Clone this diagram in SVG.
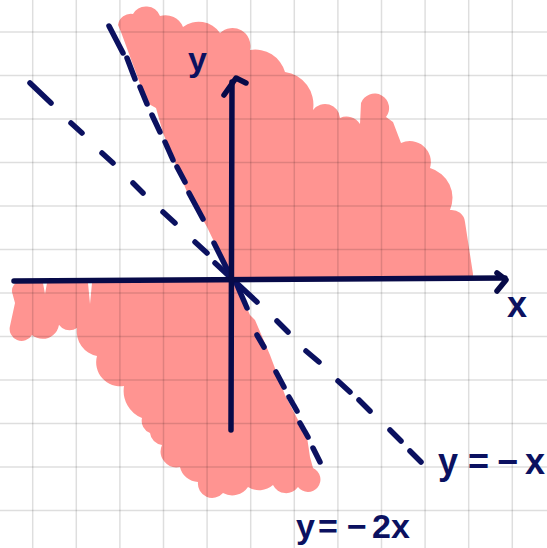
<svg xmlns="http://www.w3.org/2000/svg" width="547" height="548" viewBox="0 0 547 548">
<style>
.pink{fill:#ff9491;stroke:none}
.grid line{stroke:#000;stroke-opacity:0.13;stroke-width:1.5}
.dash line{stroke:#0b1160;stroke-width:5.5;stroke-linecap:round}
.axis{fill:none;stroke:#070a48;stroke-width:5.5;stroke-linecap:round;stroke-linejoin:round}
.lbl{font-family:"Liberation Sans",Arial,sans-serif;font-weight:bold;fill:#0b1160}
</style>
<rect width="547" height="548" fill="#fff"/>
<g id="region-upper">
<path class="pink" d="M232,279 L207,227 L187,192 L163,133 L156,108 L147,103 L121,32 L118,25 A13 13 0 0 1 133,14 A15 15 0 0 1 160,16 A19 19 0 0 1 183,27 A26 26 0 0 1 220,33 A18 18 0 0 1 250,50 A31 31 0 0 1 285,72 A33 33 0 0 1 313,110 A15 15 0 0 1 340,118 A16 16 0 0 1 360,124 L361,103 A14.5 14.5 0 1 1 386,117 L393,122 L401,143 A21 21 0 0 1 430,168 A31 31 0 0 1 450,210 A13.5 13.5 0 0 1 465,222 L473,274 L473,279 Z"/>
</g>
<g id="region-lower">
<path class="pink" d="M232,281 L237,287 L242,297 L250,315 L255,320 L270,355 L285,395 L297,418 L307,437 L310,457 L313,468 A12.5 12.5 0 1 1 298,487 A14.6 14.6 0 0 1 273,485 A21 21 0 0 1 248,487 A19 19 0 0 1 223,493 A14.3 14.3 0 0 1 198,482 A19 19 0 0 1 180,467 A16 16 0 0 1 162,445 A13.5 13.5 0 0 1 150,433 A13 13 0 0 1 142,418 A29.5 29.5 0 0 1 124,386 A24 24 0 0 1 97,356 A25 25 0 0 1 77,328 A13 13 0 0 1 57,314 A16.6 16.6 0 0 1 32,335 A12 12 0 0 1 10,326 L15,303 L12,292 A10 10 0 0 1 20,281 Z"/>
<path fill="#fff" d="M43,283 L47,283 L45,294 Z M88,283 L92,283 L90,304 Z"/>
</g>
<g class="grid">
<line x1="32.7" y1="0" x2="32.7" y2="548"/>
<line x1="76.3" y1="0" x2="76.3" y2="548"/>
<line x1="119.9" y1="0" x2="119.9" y2="548"/>
<line x1="163.5" y1="0" x2="163.5" y2="548"/>
<line x1="207.1" y1="0" x2="207.1" y2="548"/>
<line x1="250.7" y1="0" x2="250.7" y2="548"/>
<line x1="294.3" y1="0" x2="294.3" y2="548"/>
<line x1="337.9" y1="0" x2="337.9" y2="548"/>
<line x1="381.5" y1="0" x2="381.5" y2="548"/>
<line x1="425.1" y1="0" x2="425.1" y2="548"/>
<line x1="468.7" y1="0" x2="468.7" y2="548"/>
<line x1="512.3" y1="0" x2="512.3" y2="548"/>
<line x1="0" y1="32" x2="547" y2="32"/>
<line x1="0" y1="75.5" x2="547" y2="75.5"/>
<line x1="0" y1="119" x2="547" y2="119"/>
<line x1="0" y1="162.5" x2="547" y2="162.5"/>
<line x1="0" y1="206" x2="547" y2="206"/>
<line x1="0" y1="249.5" x2="547" y2="249.5"/>
<line x1="0" y1="293" x2="547" y2="293"/>
<line x1="0" y1="336.5" x2="547" y2="336.5"/>
<line x1="0" y1="380" x2="547" y2="380"/>
<line x1="0" y1="423.5" x2="547" y2="423.5"/>
<line x1="0" y1="467" x2="547" y2="467"/>
<line x1="0" y1="510.5" x2="547" y2="510.5"/>
</g>
<g id="connectors">
<g id="line-y-neg-2x" class="dash">
<line x1="109" y1="26" x2="123" y2="53"/>
<line x1="127" y1="58" x2="135" y2="79"/>
<line x1="140" y1="87" x2="147" y2="104"/>
<line x1="152" y1="115" x2="160" y2="132"/>
<line x1="165" y1="142" x2="173" y2="160"/>
<line x1="177" y1="167" x2="185" y2="182"/>
<line x1="189" y1="193" x2="203" y2="219"/>
<line x1="214" y1="243" x2="232" y2="279"/>
<line x1="237" y1="285" x2="247" y2="308"/>
<line x1="257" y1="335" x2="264" y2="347"/>
<line x1="276" y1="372" x2="284" y2="387"/>
<line x1="289" y1="397" x2="297" y2="411"/>
<line x1="300" y1="423" x2="308" y2="437"/>
<line x1="313" y1="448" x2="320" y2="462"/>
</g>
<g id="line-y-neg-x" class="dash">
<line x1="30" y1="83" x2="51" y2="103"/>
<line x1="71" y1="123" x2="82" y2="133"/>
<line x1="102" y1="153" x2="113" y2="163"/>
<line x1="133" y1="183" x2="143" y2="193"/>
<line x1="163" y1="212" x2="175" y2="223"/>
<line x1="195" y1="242" x2="207" y2="253"/>
<line x1="215" y1="263" x2="257" y2="302"/>
<line x1="277" y1="321" x2="288" y2="332"/>
<line x1="306" y1="351" x2="319" y2="362"/>
<line x1="338" y1="381" x2="350" y2="392"/>
<line x1="359" y1="400" x2="370" y2="411"/>
<line x1="390" y1="430" x2="401" y2="441"/>
<line x1="410" y1="451" x2="421" y2="462"/>
</g>
</g>
<g id="x-axis">
<path class="axis" d="M14,281 L505,278"/>
<path class="axis" d="M497,273 L506,280 L497,291"/>
<text class="lbl" x="507" y="317" font-size="36">x</text>
</g>
<g id="y-axis">
<path class="axis" d="M231,430 L232,82"/>
<path class="axis" d="M224,95 L236,78 L246,83"/>
<text class="lbl" x="188" y="71" font-size="34">y</text>
</g>
<g id="label-y-neg-x">
<text class="lbl" font-size="36" x="438 458 468 492 497 525" y="474">y = −x</text>
</g>
<g id="label-y-neg-2x">
<text class="lbl" font-size="34" x="296 314 318 342 347 372 391" y="538">y = −2x</text>
</g>
</svg>
